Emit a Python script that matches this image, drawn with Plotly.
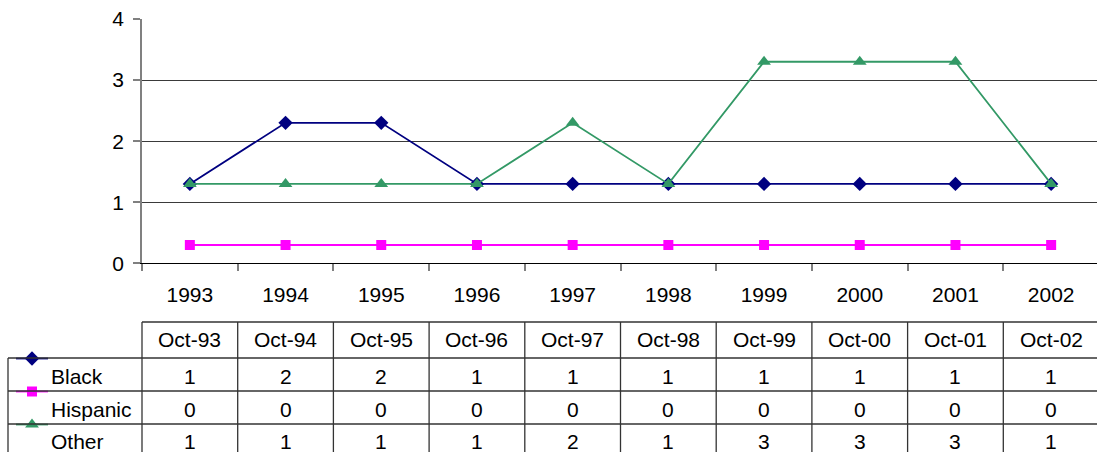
import plotly.graph_objects as go

# ---- data ----
years = ["1993", "1994", "1995", "1996", "1997", "1998", "1999", "2000", "2001", "2002"]
months = ["Oct-93", "Oct-94", "Oct-95", "Oct-96", "Oct-97", "Oct-98", "Oct-99", "Oct-00", "Oct-01", "Oct-02"]
black = [1.3, 2.3, 2.3, 1.3, 1.3, 1.3, 1.3, 1.3, 1.3, 1.3]
hispanic = [0.3, 0.3, 0.3, 0.3, 0.3, 0.3, 0.3, 0.3, 0.3, 0.3]
other = [1.3, 1.3, 1.3, 1.3, 2.3, 1.3, 3.3, 3.3, 3.3, 1.3]
y_ticks = [0, 1, 2, 3, 4]

# ---- geometry (pixels) ----
W, H = 1097, 452
PLOT_L, PLOT_T, PLOT_B = 142, 19, 263.3
COL = 95.7
X_LO = -0.5
X_HI = X_LO + (W - PLOT_L) / COL
FONT = "Liberation Sans, Arial, sans-serif"
FS = 21
LINE_C = "#333333"


def px(p):
    return p / W


def py(p):
    return 1 - p / H


series = [
    ("Black", black, "#000080", "diamond", 11),
    ("Hispanic", hispanic, "#FF00FF", "square", 10),
    ("Other", other, "#339966", "triangle-up", 12),
]

fig = go.Figure()
xs = list(range(len(years)))
for name, vals, color, sym, size in series:
    fig.add_trace(go.Scatter(
        x=xs, y=vals, mode="lines+markers", name=name,
        line=dict(color=color, width=1.8),
        marker=dict(symbol=sym, size=size, color=color, line=dict(width=0)),
        showlegend=False, cliponaxis=False, xaxis="x", yaxis="y",
    ))

# ---- data table ----
HEAD_TOP, HEAD_BOT = 322, 358
ROW_TOPS = [358, 391, 424]
ROW_MID = [376, 409, 441]
TBL_L = 8

shapes = []
shapes.append(dict(type="line", xref="paper", yref="paper", x0=px(PLOT_L), x1=1,
                   y0=py(HEAD_TOP), y1=py(HEAD_TOP), line=dict(color=LINE_C, width=1.3)))
for t in ROW_TOPS:
    shapes.append(dict(type="line", xref="paper", yref="paper", x0=px(TBL_L), x1=1,
                       y0=py(t), y1=py(t), line=dict(color=LINE_C, width=1.3)))
for k in range(len(years)):
    xb = PLOT_L + k * COL
    shapes.append(dict(type="line", xref="paper", yref="paper", x0=px(xb), x1=px(xb),
                       y0=py(HEAD_TOP), y1=0, line=dict(color=LINE_C, width=1.3)))
shapes.append(dict(type="line", xref="paper", yref="paper", x0=px(TBL_L), x1=px(TBL_L),
                   y0=py(HEAD_BOT), y1=0, line=dict(color=LINE_C, width=1.3)))

annotations = []
for k, m in enumerate(months):
    annotations.append(dict(x=k, xref="x", y=py(339), yref="paper", text=m, showarrow=False,
                            xanchor="center", yanchor="middle",
                            font=dict(family=FONT, size=FS, color="black")))
for (name, vals, color, sym, size), mid, top in zip(series, ROW_MID, ROW_TOPS):
    annotations.append(dict(x=px(49), xref="paper", y=py(mid), yref="paper", text=name,
                            showarrow=False, xanchor="left", yanchor="middle",
                            font=dict(family=FONT, size=FS, color="black")))
    for k, v in enumerate(vals):
        annotations.append(dict(x=k, xref="x", y=py(mid), yref="paper", text=str(int(round(v))),
                                showarrow=False, xanchor="center", yanchor="middle",
                                font=dict(family=FONT, size=FS, color="black")))
    # legend key in the row header
    fig.add_trace(go.Scatter(
        x=[16, 32, 48], y=[top + 0.5] * 3, mode="lines", line=dict(color=color, width=1.8),
        showlegend=False, hoverinfo="skip", xaxis="x2", yaxis="y2", cliponaxis=False,
    ))
    fig.add_trace(go.Scatter(
        x=[32], y=[top + 0.5], mode="markers",
        marker=dict(symbol=sym, size=size, color=color, line=dict(width=0)),
        showlegend=False, hoverinfo="skip", xaxis="x2", yaxis="y2", cliponaxis=False,
    ))

fig.update_layout(
    template="none",
    width=W, height=H, autosize=False,
    margin=dict(l=0, r=0, t=0, b=0, pad=0),
    paper_bgcolor="white", plot_bgcolor="rgba(0,0,0,0)",
    font=dict(family=FONT, size=FS, color="black"),
    showlegend=False,
    xaxis=dict(
        domain=[px(PLOT_L), 1], range=[X_LO, X_HI], automargin=False,
        tickmode="array", tickvals=xs, ticktext=years, ticks="",
        ticklabelstandoff=12,
        minor=dict(tickmode="array", tickvals=[k - 0.5 for k in range(len(years) + 1)],
                   ticks="outside", ticklen=7, tickcolor="#808080", tickwidth=1.5, showgrid=False),
        showline=True, linecolor="black", linewidth=1.3,
        showgrid=False, zeroline=False, fixedrange=True,
        tickfont=dict(family=FONT, size=FS, color="black"),
    ),
    yaxis=dict(
        domain=[py(PLOT_B), py(PLOT_T)], range=[0, 4], automargin=False,
        tickmode="array", tickvals=y_ticks, ticks="outside", ticklen=7,
        tickcolor="#808080", tickwidth=1.5, ticklabelstandoff=5,
        showline=True, linecolor="#808080", linewidth=1.8,
        showgrid=True, gridcolor="#3a3a3a", gridwidth=1.3, zeroline=False,
        fixedrange=True,
        tickfont=dict(family=FONT, size=FS, color="black"),
    ),
    xaxis2=dict(domain=[0, 1], range=[0, W], visible=False, fixedrange=True, anchor="y2",
                automargin=False),
    yaxis2=dict(domain=[0, 1], range=[H, 0], visible=False, fixedrange=True, anchor="x2",
                automargin=False),
    shapes=shapes,
    annotations=annotations,
)

fig.write_html(
    "out.html",
    config={"displayModeBar": False},
    post_script="document.body.style.margin='0';document.body.style.overflow='hidden';",
)
